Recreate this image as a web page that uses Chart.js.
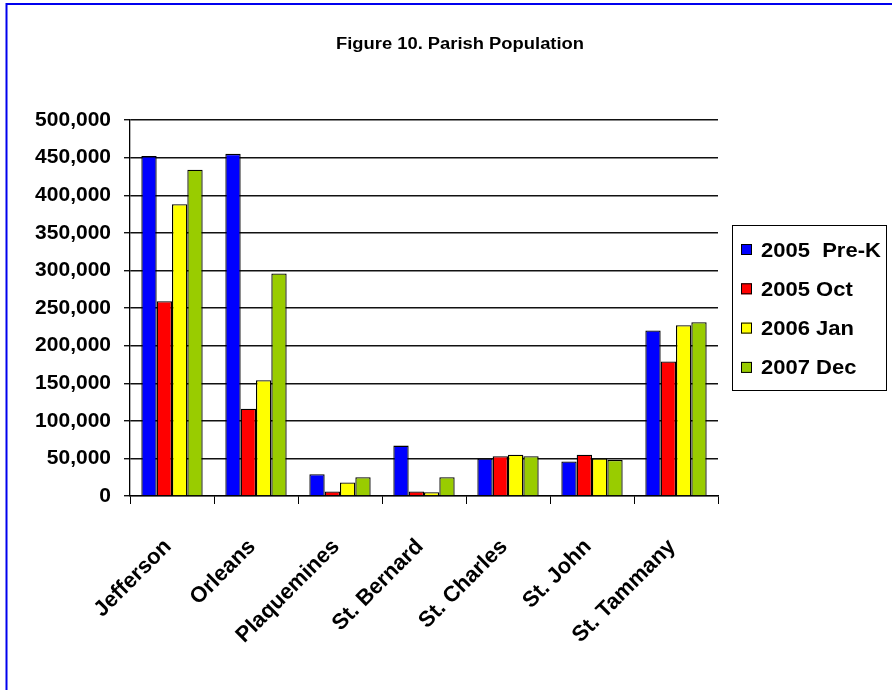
<!DOCTYPE html>
<html>
<head>
<meta charset="utf-8">
<script src="https://cdn.jsdelivr.net/npm/chart.js@4"></script>
<style>
html,body{margin:0;padding:0;background:#fff;}
#wrap{width:892px;height:690px;position:relative;}
</style>
</head>
<body>
<div id="wrap"><canvas id="c" width="892" height="690"></canvas></div>
<script>
const categories = ["Jefferson","Orleans","Plaquemines","St. Bernard","St. Charles","St. John","St. Tammany"];
const seriesNames = ["2005  Pre-K","2005 Oct","2006 Jan","2007 Dec"];
const pre2005 = [452000, 455000, 29000, 67000, 50000, 46000, 220000];
const oct2005 = [259000, 116000, 6000, 6000, 53000, 55000, 179000];
const jan2006 = [388000, 154000, 18000, 5000, 55000, 50000, 227000];
const dec2007 = [434000, 296000, 25000, 25000, 53000, 48000, 231000];
const yTicks = [0,50000,100000,150000,200000,250000,300000,350000,400000,450000,500000];
const titleText = 'Figure 10. Parish Population';
const colors = ["#0000FF","#FF0000","#FFFF00","#99CC00"];
const FONT = "'Liberation Sans', Arial, sans-serif";

const seriesValues = [pre2005, oct2005, jan2006, dec2007];

function stretchedText(ctx, text, x, y, font, sx, align){
  ctx.save();
  ctx.font = font;
  ctx.textAlign = align;
  ctx.textBaseline = 'middle';
  ctx.translate(x, y);
  ctx.scale(sx, 1);
  ctx.fillText(text, 0, 0);
  ctx.restore();
}

const frame = {
  id: 'frame',
  beforeDraw(chart){
    const ctx = chart.ctx;
    ctx.save();
    ctx.fillStyle = '#fff';
    ctx.fillRect(0,0,chart.width,chart.height);
    ctx.strokeStyle = '#0000EE';
    ctx.lineWidth = 2;
    ctx.beginPath();
    ctx.moveTo(6.5, 690);
    ctx.lineTo(6.5, 4);
    ctx.lineTo(892, 4);
    ctx.stroke();
    ctx.fillStyle = '#000';
    const f = "bold 16px " + FONT;
    ctx.font = f;
    const w = ctx.measureText(titleText).width;
    stretchedText(ctx, titleText, 460, 45, f, 248 / w, 'center');
    ctx.restore();
  }
};

const boxLegend = {
  id: 'boxLegend',
  afterDraw(chart){
    const ctx = chart.ctx;
    ctx.save();
    ctx.strokeStyle = '#000';
    ctx.lineWidth = 1;
    ctx.strokeRect(732.5, 225.5, 154, 165);
    chart.data.datasets.forEach((ds, i) => {
      const cy = 250 + i * 39.3;
      ctx.fillStyle = ds.backgroundColor;
      ctx.fillRect(741, cy - 6, 11, 11);
      ctx.strokeStyle = '#000';
      ctx.strokeRect(741.5, cy - 5.5, 10, 10);
      ctx.fillStyle = '#000';
      stretchedText(ctx, ds.label, 761, cy + 1, "bold 20px " + FONT, 1.1, 'left');
    });
    ctx.restore();
  }
};

new Chart(document.getElementById('c'), {
  type: 'bar',
  data: {
    labels: categories,
    datasets: seriesNames.map((n, i) => ({
      label: n,
      data: seriesValues[i],
      backgroundColor: colors[i],
      borderColor: '#000',
      borderWidth: 1.3,
      categoryPercentage: 0.73,
      barPercentage: 1.0
    }))
  },
  options: {
    responsive: false,
    animation: false,
    devicePixelRatio: 1,
    layout: { padding: { left: 10, right: 174, top: 120, bottom: 0 } },
    plugins: {
      legend: { display: false },
      tooltip: { enabled: false },
      title: { display: false }
    },
    scales: {
      x: {
        grid: { drawOnChartArea: false, drawTicks: true, tickLength: 8, color: '#000', offset: true },
        border: { color: '#000', width: 1.3 },
        ticks: {
          color: '#000',
          font: { family: FONT, size: 22, weight: 'bold' },
          minRotation: 45, maxRotation: 45,
          padding: 30,
          labelOffset: -4
        },
        afterFit(s){ s.height = 194; }
      },
      y: {
        min: 0, max: 500000,
        afterBuildTicks(s){ s.ticks = yTicks.map(v => ({ value: v })); },
        grid: { color: '#111', lineWidth: 1.4, tickLength: 6, drawTicks: true },
        border: { color: '#000', width: 1.3 },
        ticks: {
          color: '#000',
          font: { family: FONT, size: 21, weight: 'bold' },
          padding: 13,
          callback: v => v.toLocaleString('en-US')
        },
        afterFit(s){ s.width = 120; }
      }
    }
  },
  plugins: [frame, boxLegend]
});
</script>
</body>
</html>
